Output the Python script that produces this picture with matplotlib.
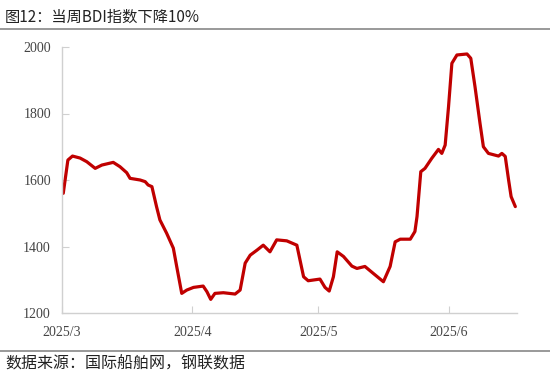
import numpy as np
import pandas as pd
import matplotlib
matplotlib.use("Agg")
import matplotlib.pyplot as plt
from matplotlib.lines import Line2D

plt.rcParams['font.family'] = ['Noto Sans CJK SC', 'DejaVu Sans']

# --- data: days since 2025-03-01, BDI value
days = [0.3, 1.4, 2.5, 4.3, 5.9, 7.9, 9.5, 12.2, 13.8, 15.4, 16.2, 18.6, 19.8,
        20.5, 21.4, 22.5, 23.3, 24.9, 26.5, 27.3, 28.5, 29.7, 31.3, 33.6, 34.5,
        35.4, 36.4, 38.4, 41.2, 42.4, 43.6, 44.8, 46.4, 47.9, 49.5, 51.1, 53.5,
        55.9, 57.5, 58.6, 61.4, 62.6, 63.6, 64.6, 65.5, 67.0, 69.0, 70.2, 72.1,
        74.1, 76.5, 78.1, 79.3, 80.5, 82.9, 84.0, 84.5, 85.4, 86.4, 88.0, 89.6,
        90.4, 91.2, 92.0, 92.8, 94.0, 96.4, 97.3, 98.3, 99.5, 100.3, 101.5,
        103.9, 104.7, 105.5, 106.3, 106.9, 107.9]
bdi = [1560, 1660, 1672, 1666, 1655, 1635, 1645, 1653, 1640, 1622, 1605, 1600,
       1595, 1585, 1580, 1520, 1480, 1440, 1395, 1340, 1259, 1269, 1277, 1281,
       1264, 1241, 1259, 1261, 1257, 1269, 1350, 1374, 1389, 1404, 1384, 1420,
       1417, 1404, 1309, 1297, 1302, 1277, 1266, 1309, 1384, 1370, 1341, 1334,
       1340, 1319, 1294, 1340, 1414, 1422, 1422, 1445, 1490, 1625, 1635, 1665,
       1692, 1680, 1705, 1820, 1951, 1976, 1979, 1966, 1881, 1770, 1700, 1680,
       1672, 1680, 1671, 1600, 1550, 1520]
tick_dates = ['2025-03-01', '2025-04-01', '2025-05-01', '2025-06-01']
tick_labels = ['2025/3', '2025/4', '2025/5', '2025/6']
y_ticks = [1200, 1400, 1600, 1800, 2000]

start = pd.Timestamp('2025-03-01')
x = [start + pd.Timedelta(days=d) for d in days]

fig = plt.figure(figsize=(5.5, 3.81), dpi=100)
ax = fig.add_axes([62 / 550, 1 - 313 / 381, 455 / 550, 266 / 381])

ax.plot(x, bdi, color='#C00000', linewidth=2.3, solid_capstyle='round',
        solid_joinstyle='round')

ax.set_ylim(1200, 2000)
ax.set_yticks(y_ticks)
ax.set_xlim(start, start + pd.Timedelta(days=108.3))
ax.set_xticks(pd.to_datetime(tick_dates))
ax.set_xticklabels(tick_labels)

for s in ['top', 'right']:
    ax.spines[s].set_visible(False)
for s in ['left', 'bottom']:
    ax.spines[s].set_color('#D0D0D0')
    ax.spines[s].set_linewidth(1)
ax.tick_params(direction='in', length=5, color='#D0D0D0')
for lab in ax.get_xticklabels() + ax.get_yticklabels():
    lab.set_family('Liberation Serif')
    lab.set_fontsize(10)
    lab.set_color('#444444')
ax.tick_params(axis='y', pad=8)
ax.tick_params(axis='x', pad=9)

fig.text(5 / 550, 1 - 17 / 381, '图12：当周BDI指数下降10%', fontsize=11,
         va='center', ha='left', color='#222222')
fig.add_artist(Line2D([0, 1], [1 - 29 / 381] * 2, color='#888888', linewidth=1.2))
fig.add_artist(Line2D([0, 1], [1 - 351 / 381] * 2, color='#888888', linewidth=1.2))
fig.text(5 / 550, 1 - 364 / 381, '数据来源：国际船舶网，钢联数据', fontsize=11.5,
         va='center', ha='left', color='#222222')

fig.savefig('out.png', dpi=100)
